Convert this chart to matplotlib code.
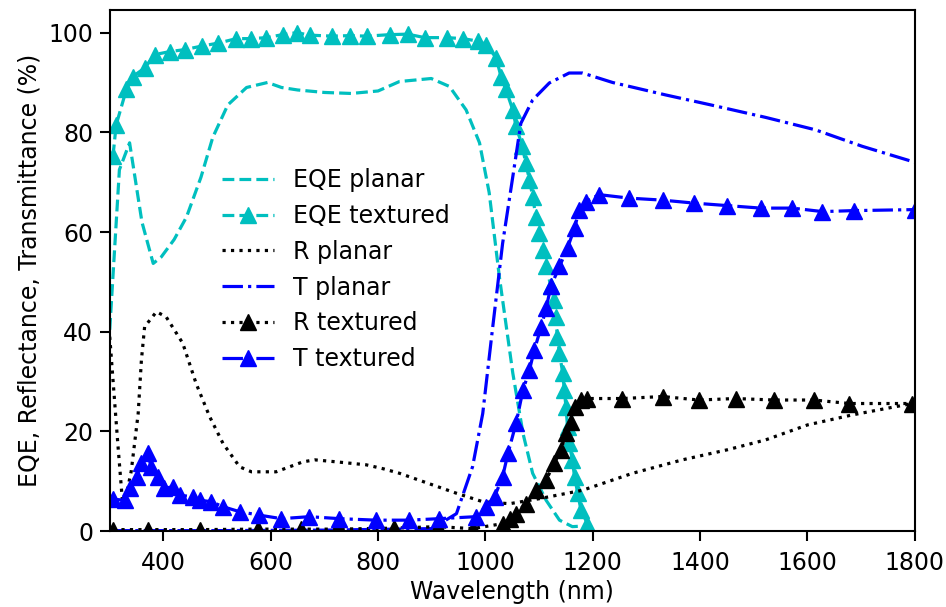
import matplotlib
matplotlib.use("Agg")
import matplotlib.pyplot as plt

# EQE planar
eqe_pl_x = [300, 318, 337, 360, 381, 396, 420, 443, 470, 492, 520, 555, 594, 620, 650, 700, 750, 800,
            840, 870, 899, 933, 964, 989, 1007, 1026, 1051, 1070, 1088, 1113, 1138, 1162, 1180]
eqe_pl_y = [40.4, 72.5, 77.9, 62, 53.7, 55, 58.5, 63, 71, 79, 85.5, 89, 90, 89, 88.5, 88, 87.8, 88.3,
            90.2, 90.5, 90.8, 89.2, 84.5, 77.9, 67.9, 51, 31.7, 19.6, 11.6, 6.2, 2.2, 0.9, 1.0]

# EQE textured
eqe_tx_x = [306, 312, 331, 343, 365, 384, 412, 440, 471, 502, 536, 564, 592, 622, 648, 673, 714, 747,
            779, 822, 855, 887, 928, 958, 986, 1002, 1020, 1029, 1038, 1051, 1057, 1069, 1075, 1082,
            1088, 1094, 1100, 1107, 1113, 1122, 1128, 1131, 1134, 1138, 1144, 1147, 1150, 1153, 1156,
            1162, 1166, 1172, 1178, 1190]
eqe_tx_y = [75.2, 81.5, 88.6, 91.2, 92.9, 95.6, 96.2, 96.6, 97.3, 97.9, 98.8, 98.8, 99.0, 99.6, 100.0,
            99.5, 99.3, 99.4, 99.3, 99.6, 99.7, 99.0, 99.0, 98.8, 98.3, 97.6, 94.9, 91.2, 88.6, 84.5,
            81.2, 77.2, 73.8, 70.5, 67.1, 63.1, 59.8, 56.4, 53.1, 49.1, 46.4, 43.0, 39.0, 35.7, 31.7,
            28.3, 25.0, 20.9, 17.6, 14.3, 10.9, 7.6, 4.2, 1.5]

# R planar
r_pl_x = [300, 315, 325, 340, 353, 359, 365, 387, 405, 436, 461, 486, 511, 542, 564, 610, 660, 682,
          722, 778, 810, 840, 877, 946, 995, 1045, 1100, 1181, 1274, 1367, 1450, 1522, 1600, 1683, 1795]
r_pl_y = [39, 17.6, 4.2, 12, 23.6, 34.3, 41, 44, 43, 37.7, 29.6, 23, 17.6, 12.9, 11.9, 11.9, 13.9,
          14.3, 13.9, 13.3, 12.5, 11.6, 10.2, 7.6, 5.9, 5.5, 6.5, 8.2, 11.6, 14.3, 16.3, 18.3, 21.3,
          23.3, 25.6]

# T planar
t_pl_x = [300, 500, 700, 900, 946, 976, 995, 1013, 1032, 1051, 1066, 1088, 1119, 1156, 1181, 1237,
          1336, 1420, 1522, 1615, 1702, 1800]
t_pl_y = [0.1, 0.1, 0.2, 0.5, 3.5, 12.9, 23.6, 40.4, 57.7, 71.1, 81.8, 86.5, 89.9, 91.9, 91.9, 90.0,
          87.5, 85.5, 83.0, 80.5, 77.2, 74.0]

# R textured
r_tx_x = [306, 371, 468, 576, 657, 728, 830, 911, 976, 1032, 1045, 1057, 1075, 1094, 1113, 1128,
          1141, 1150, 1159, 1166, 1178, 1190, 1255, 1330, 1398, 1466, 1538, 1612, 1678, 1795]
r_tx_y = [0.3, 0.3, 0.3, 0.4, 0.4, 0.4, 0.6, 0.9, 0.5, 1.5, 2.5, 3.5, 5.5, 8.2, 10.2, 13.6, 16.3,
          19.6, 21.9, 25.0, 26.3, 26.6, 26.6, 27.0, 26.3, 26.6, 26.3, 26.3, 25.6, 25.6]

# T textured
t_tx_x = [306, 328, 337, 350, 359, 371, 377, 390, 402, 418, 430, 455, 468, 489, 511, 542, 579, 620,
          672, 728, 796, 858, 914, 982, 1001, 1017, 1032, 1042, 1057, 1070, 1082, 1091, 1104, 1113,
          1122, 1138, 1153, 1166, 1175, 1187, 1212, 1268, 1330, 1389, 1451, 1513, 1572, 1628, 1687, 1800]
t_tx_y = [6.4, 6.2, 8.6, 10.9, 13.6, 15.6, 12.9, 10.9, 8.6, 8.9, 7.2, 6.9, 6.2, 5.9, 4.9, 3.9, 3.2,
          2.5, 2.9, 2.5, 2.2, 2.2, 2.5, 2.9, 4.9, 6.9, 10.9, 15.6, 21.6, 28.3, 32.3, 36.3, 41.0, 44.7,
          49.1, 53.1, 56.8, 60.8, 64.5, 66.1, 67.5, 66.8, 66.4, 65.8, 65.3, 64.8, 64.8, 64.1, 64.3, 64.5]

lw = 2.3
ms = 12
fs = 17

fig = plt.figure(figsize=(9.46, 6.07), dpi=100)
ax = fig.add_axes([0.116, 0.125, 0.851, 0.859])

ax.plot(eqe_pl_x, eqe_pl_y, 'c--', lw=lw, label='EQE planar')
ax.plot(eqe_tx_x, eqe_tx_y, 'c^--', lw=lw, ms=ms, label='EQE textured')
ax.plot(r_pl_x, r_pl_y, 'k:', lw=lw, label='R planar')
ax.plot(t_pl_x, t_pl_y, 'b-.', lw=lw, label='T planar')
ax.plot(r_tx_x, r_tx_y, 'k^:', lw=lw, ms=ms, label='R textured')
ax.plot(t_tx_x, t_tx_y, 'b^-.', lw=lw, ms=ms, label='T textured')

ax.set_xlim(300, 1800)
ax.set_ylim(0, 104.6)
ax.set_xlabel('Wavelength (nm)', fontsize=fs, labelpad=4)
ax.set_ylabel('EQE, Reflectance, Transmittance (%)', fontsize=fs, labelpad=5)
ax.tick_params(labelsize=fs, width=1.5, length=7)
ax.tick_params(axis='x', pad=7)
ax.tick_params(axis='y', pad=5)
for s in ax.spines.values():
    s.set_linewidth(1.5)

ax.legend(loc='upper left', bbox_to_anchor=(0.113, 0.737), frameon=False, fontsize=fs,
          handlelength=2.2, labelspacing=0.5)

fig.savefig('out.png', dpi=100)
